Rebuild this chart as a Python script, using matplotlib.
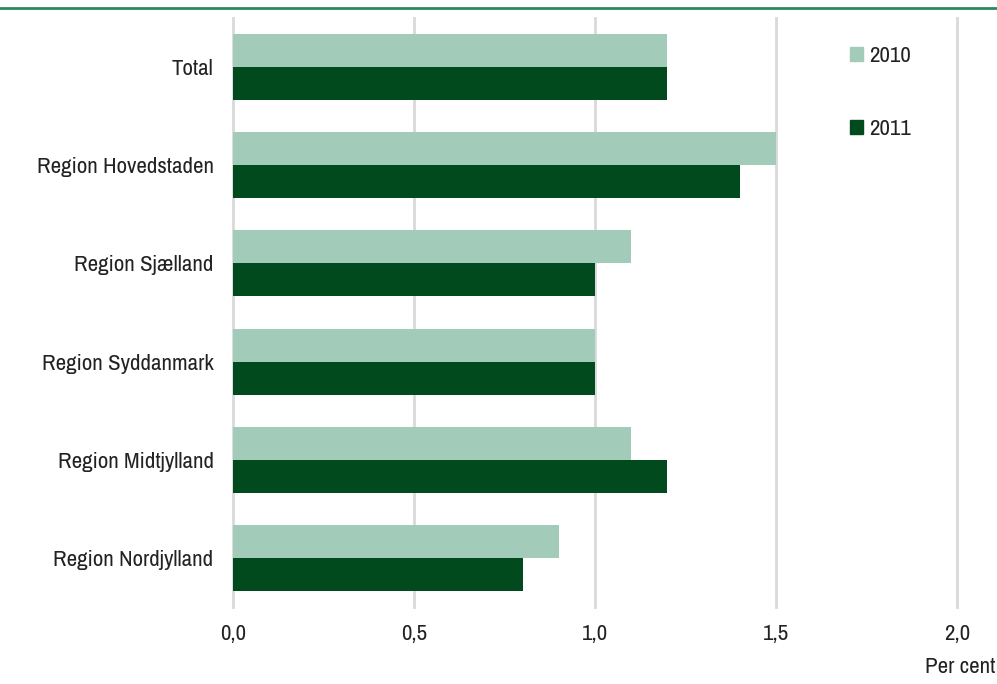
import matplotlib
matplotlib.use("Agg")
import matplotlib.pyplot as plt
from matplotlib.lines import Line2D
from matplotlib.patches import Patch
from matplotlib.textpath import TextPath
from matplotlib.font_manager import FontProperties
import numpy as np
from matplotlib import font_manager

fams = {f.name for f in font_manager.fontManager.ttflist}
prefs = [n for n in sorted(fams) if ("Condensed" in n or "Narrow" in n)]
prefs += ["Roboto", "Open Sans", "Lato", "Noto Sans", "DejaVu Sans"]
fam = next(n for n in prefs if n in fams or n == "DejaVu Sans")
plt.rcParams['font.family'] = [fam, 'DejaVu Sans']

categories = ["Total", "Region Hovedstaden", "Region Sjælland", "Region Syddanmark",
              "Region Midtjylland", "Region Nordjylland"]
values_2010 = [1.2, 1.5, 1.1, 1.0, 1.1, 0.9]
values_2011 = [1.2, 1.4, 1.0, 1.0, 1.2, 0.8]
xticks = [0.0, 0.5, 1.0, 1.5, 2.0]
xtick_labels = ["0,0", "0,5", "1,0", "1,5", "2,0"]

c2010 = "#a3cbb9"
c2011 = "#004a1e"

# pick font size so that the longest label is about as wide as in the reference
tp = TextPath((0, 0), "Region Hovedstaden", size=10, prop=FontProperties(family=fam))
w10 = tp.get_extents().width  # in points at size 10
fs = min(17, 10 * (174 * 72 / 100) / w10)
fs_px = fs * 100 / 72

fig = plt.figure(figsize=(9.97, 6.84), dpi=100)
ax = fig.add_axes([233/997, 1-607/684, (957-233)/997, (607-18)/684])

y = np.arange(len(categories))
h = 0.337
ax.barh(y - h/2, values_2010, height=h, color=c2010, label="2010", zorder=3)
ax.barh(y + h/2, values_2011, height=h, color=c2011, label="2011", zorder=3)

ax.set_ylim(len(categories) - 0.5, -0.5)
ax.set_xlim(0, 2.0)
ax.set_yticks(y)
ax.set_yticklabels(categories, fontsize=fs, color="#222222")
ax.set_xticks(xticks)
ax.set_xticklabels(xtick_labels, fontsize=fs, color="#222222")
ax.tick_params(axis='y', length=0, pad=14)
ax.tick_params(axis='x', length=0, pad=12)
for s in ax.spines.values():
    s.set_visible(False)
ax.grid(axis='x', color="#d9d9d9", linewidth=2, zorder=0)
for gl in ax.get_xgridlines():
    gl.set_clip_on(False)
ax.set_axisbelow(True)

handles = [Patch(color=c2010), Patch(color=c2011)]
ls = (75 - 0.97 * fs_px) / fs_px
leg = ax.legend(handles, ["2010", "2011"], loc="upper left",
                bbox_to_anchor=(850/997, 1-46/684), bbox_transform=fig.transFigure,
                frameon=False, fontsize=fs, handlelength=13/fs_px, handleheight=13/fs_px,
                handletextpad=0.25, labelspacing=ls, borderpad=0, borderaxespad=0)
for t in leg.get_texts():
    t.set_color("#222222")

fig.text(995/997, 1-667/684, "Per cent", ha="right", va="center", fontsize=fs, color="#222222")
fig.add_artist(Line2D([0, 1], [1-8/684, 1-8/684], transform=fig.transFigure,
                      color="#2a8a5f", linewidth=2))

fig.savefig("out.png", dpi=100)
